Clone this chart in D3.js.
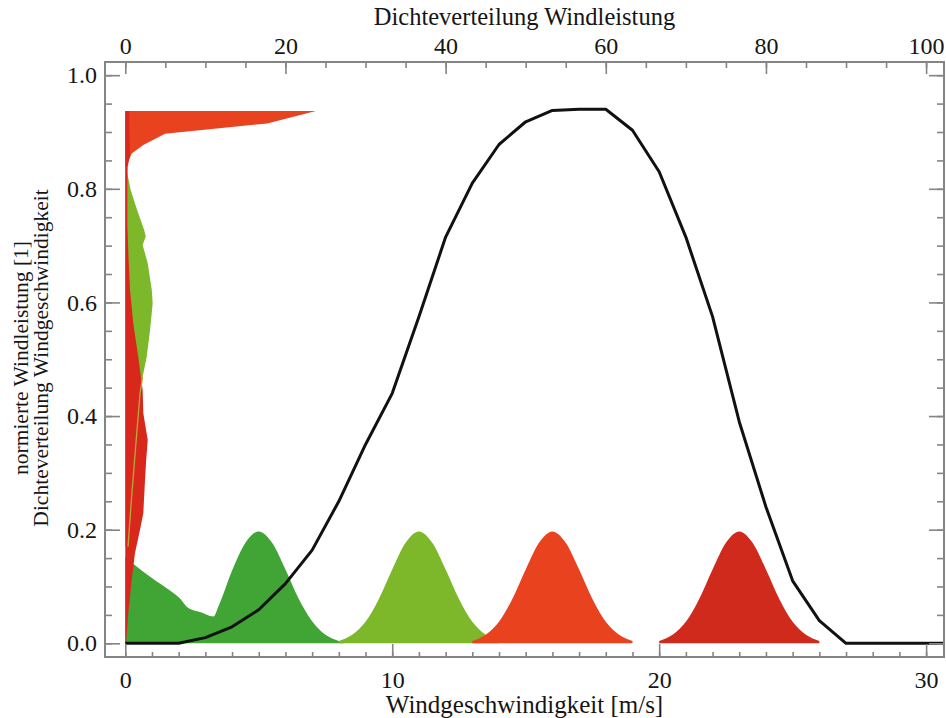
<!DOCTYPE html>
<html><head><meta charset="utf-8">
<script src="https://cdn.jsdelivr.net/npm/d3@7"></script>
<style>
body{margin:0;background:#fff}
svg{display:block}
text{font-family:"Liberation Serif","Times New Roman",serif;fill:#151515}
</style>
</head><body>
<svg id="chart" width="946" height="718"></svg>
<script>
// ---------- data ----------
const speedTicks = [0, 10, 20, 30];
const speedMinorTicks = d3.range(0, 31, 1);
const densityTicks = [0, 20, 40, 60, 80, 100];
const densityMinorTicks = d3.range(0, 101, 5);
const yTicks = [0, 0.2, 0.4, 0.6, 0.8, 1.0];
const yMinorTicks = d3.range(0, 1.0001, 0.05);

// normalised power curve (black)
const powerSpeed = [0, 1, 2, 3, 4, 5, 6, 7, 8, 9, 10, 11, 12, 13, 14, 15, 16, 17, 18, 19, 20, 21, 22, 23, 24, 25, 26, 27, 28, 29, 30, 30.67];
const powerValue = [0, 0, 0, 0.01, 0.029, 0.059, 0.105, 0.164, 0.25, 0.35, 0.44, 0.575, 0.715, 0.81, 0.878, 0.918, 0.938, 0.94, 0.94, 0.903, 0.83, 0.715, 0.575, 0.39, 0.24, 0.11, 0.04, 0, 0, 0, 0, 0];

// wind speed density classes (bottom bumps)
const darkGreenSpeed = [0, 0.25, 0.93, 1.55, 2.05, 2.36, 2.8, 3.3, 3.5, 4.0, 4.5, 5.0, 5.5, 6.0, 6.5, 7.0, 7.5, 8.0, 8.2];
const darkGreenValue = [0.152, 0.142, 0.117, 0.097, 0.079, 0.062, 0.055, 0.047, 0.066, 0.128, 0.177, 0.197, 0.177, 0.13, 0.078, 0.039, 0.015, 0.004, 0];

const lightGreenSpeed = [8.0, 8.5, 9.0, 9.5, 10.0, 10.5, 11.0, 11.5, 12.0, 12.5, 13.0, 13.5, 14.0];
const lightGreenValue = [0.004, 0.015, 0.038, 0.078, 0.13, 0.177, 0.197, 0.177, 0.13, 0.078, 0.038, 0.015, 0.004];

const orangeSpeed = [13.0, 13.5, 14.0, 14.5, 15.0, 15.5, 16.0, 16.5, 17.0, 17.5, 18.0, 18.5, 19.0];
const orangeValue = [0.004, 0.015, 0.038, 0.078, 0.13, 0.177, 0.197, 0.177, 0.13, 0.078, 0.038, 0.015, 0.004];

const darkRedSpeed = [20.0, 20.5, 21.0, 21.5, 22.0, 22.5, 23.0, 23.5, 24.0, 24.5, 25.0, 25.5, 26.0];
const darkRedValue = [0.004, 0.015, 0.038, 0.078, 0.13, 0.177, 0.197, 0.177, 0.13, 0.078, 0.038, 0.015, 0.004];

// power density distributions (left, measured on the top axis)
const darkRedVertPower = [0, 0.053, 0.111, 0.159, 0.2, 0.229, 0.287, 0.32, 0.358, 0.405, 0.446, 0.504, 0.563, 0.622, 0.68, 0.739, 0.8, 0.839, 0.86, 0.9, 0.937];
const darkRedVertDensity = [0.1, 0.37, 0.8, 1.21, 1.84, 2.25, 2.46, 2.6, 2.8, 2.25, 2.17, 1.62, 1.0, 0.59, 0.4, 0.25, 0.25, 0.3, 0.6, 0.5, 0.5];

const lightGreenVertPower = [0.17, 0.25, 0.33, 0.44, 0.469, 0.504, 0.551, 0.598, 0.622, 0.669, 0.701, 0.716, 0.727, 0.762, 0.798, 0.833, 0.88, 0.93];
const lightGreenVertDensity = [0.34, 0.75, 1.2, 1.84, 2.17, 2.67, 3.09, 3.42, 3.31, 2.8, 2.17, 2.55, 2.37, 1.5, 0.67, 0.17, 0.12, 0.12];

const orangeVertPower = [0.84, 0.847, 0.862, 0.877, 0.897, 0.915, 0.937];
const orangeVertDensity = [0.05, 0.34, 0.8, 2.25, 4.96, 17.7, 23.8];

const colors = {darkGreen: "#40a535", lightGreen: "#7cb82a", orange: "#e8421e", darkRed: "#d02a1c", vertRed: "#d8281c"};

// ---------- layout ----------
const svg = d3.select("#chart");
const L = 105, R = 944, T = 62, B = 657;
const x = d3.scaleLinear().domain([-0.76, 30.67]).range([L, R]);
const xTop = d3.scaleLinear().domain([-0.76 * 100 / 30, 30.67 * 100 / 30]).range([L, R]);
const y = d3.scaleLinear().domain([-0.0241, 1.0232]).range([B, T]);

const zip = (a, b) => a.map((v, i) => [v, b[i]]);

const bumpArea = d3.area().x(d => x(d[0])).y0(y(0)).y1(d => y(d[1])).curve(d3.curveMonotoneX);
const vertArea = d3.area().y(d => y(d[0])).x0(xTop(0)).x1(d => xTop(d[1]));

const plot = svg.append("g");
plot.append("path").attr("d", bumpArea(zip(darkGreenSpeed, darkGreenValue))).attr("fill", colors.darkGreen);
plot.append("path").attr("d", bumpArea(zip(lightGreenSpeed, lightGreenValue))).attr("fill", colors.lightGreen);
plot.append("path").attr("d", bumpArea(zip(orangeSpeed, orangeValue))).attr("fill", colors.orange);
plot.append("path").attr("d", bumpArea(zip(darkRedSpeed, darkRedValue))).attr("fill", colors.darkRed);

plot.append("path").attr("d", vertArea(zip(lightGreenVertPower, lightGreenVertDensity))).attr("fill", colors.lightGreen);
plot.append("path").attr("d", vertArea(zip(orangeVertPower, orangeVertDensity))).attr("fill", colors.orange);
plot.append("path").attr("d", vertArea(zip(darkRedVertPower, darkRedVertDensity))).attr("fill", colors.vertRed);
plot.append("path")
  .attr("d", d3.line().y(d => y(d[0])).x(d => xTop(d[1]))(zip(lightGreenVertPower, lightGreenVertDensity).slice(0, 5)))
  .attr("fill", "none").attr("stroke", "#b9a83c").attr("stroke-width", 1.3);

plot.append("path")
  .attr("d", d3.line().x(d => x(d[0])).y(d => y(d[1]))(zip(powerSpeed, powerValue)))
  .attr("fill", "none").attr("stroke", "#111").attr("stroke-width", 3).attr("stroke-linejoin", "round");

// ---------- axes ----------
const axisColor = "#858585";
function styleAxis(g) {
  g.select(".domain").remove();
  g.selectAll(".tick line").attr("stroke", axisColor).attr("stroke-width", 1.6);
  g.selectAll(".tick text").attr("font-size", 24).attr("fill", "#151515")
    .attr("font-family", '"Liberation Serif","Times New Roman",serif');
}

svg.append("g").attr("transform", `translate(0,${B})`)
  .call(d3.axisBottom(x).tickValues(speedMinorTicks).tickFormat("").tickSize(-5)).call(styleAxis);
svg.append("g").attr("transform", `translate(0,${B})`)
  .call(d3.axisBottom(x).tickValues(speedTicks).tickFormat(d3.format("d")).tickSize(-13).tickPadding(14)).call(styleAxis);

svg.append("g").attr("transform", `translate(0,${T})`)
  .call(d3.axisTop(xTop).tickValues(densityMinorTicks).tickFormat("").tickSize(-6)).call(styleAxis);
svg.append("g").attr("transform", `translate(0,${T})`)
  .call(d3.axisTop(xTop).tickValues(densityTicks).tickFormat(d3.format("d")).tickSize(-12).tickPadding(8)).call(styleAxis);

svg.append("g").attr("transform", `translate(${L},0)`)
  .call(d3.axisLeft(y).tickValues(yMinorTicks).tickFormat("").tickSize(-7)).call(styleAxis);
svg.append("g").attr("transform", `translate(${L},0)`)
  .call(d3.axisLeft(y).tickValues(yTicks).tickFormat(d3.format(".1f")).tickSize(-15).tickPadding(8)).call(styleAxis);

svg.append("g").attr("transform", `translate(${R},0)`)
  .call(d3.axisRight(y).tickValues(yMinorTicks).tickFormat("").tickSize(-7)).call(styleAxis);
svg.append("g").attr("transform", `translate(${R},0)`)
  .call(d3.axisRight(y).tickValues(yTicks).tickFormat("").tickSize(-15)).call(styleAxis);

svg.append("rect").attr("x", L).attr("y", T).attr("width", R - L).attr("height", B - T)
  .attr("fill", "none").attr("stroke", axisColor).attr("stroke-width", 2);

// ---------- titles ----------
svg.append("text").attr("x", (L + R) / 2).attr("y", 25).attr("text-anchor", "middle")
  .attr("font-size", 24.5).text("Dichteverteilung Windleistung");
svg.append("text").attr("x", (L + R) / 2).attr("y", 713).attr("text-anchor", "middle")
  .attr("font-size", 25).text("Windgeschwindigkeit [m/s]");
svg.append("text").attr("transform", "translate(28,358) rotate(-90)").attr("text-anchor", "middle")
  .attr("font-size", 21.5).text("normierte Windleistung [1]");
svg.append("text").attr("transform", "translate(48,358) rotate(-90)").attr("text-anchor", "middle")
  .attr("font-size", 21.5).text("Dichteverteilung Windgeschwindigkeit");
</script>
</body></html>
